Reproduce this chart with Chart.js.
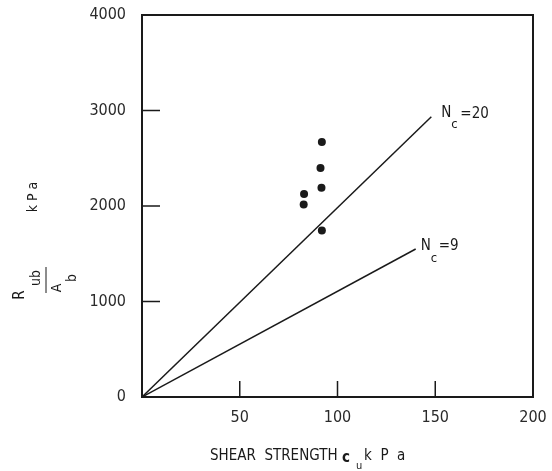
<!DOCTYPE html>
<html>
<head>
<meta charset="utf-8">
<script src="https://cdn.jsdelivr.net/npm/chart.js@4/dist/chart.umd.min.js"></script>
<style>
  body { margin: 0; background: #fff; }
  #chart { display: block; }
</style>
</head>
<body>
<canvas id="chart" width="552" height="471"></canvas>
<script>
// measured pile tests (shear strength cu, kPa vs Rub/Ab, kPa)
var testCu = [92, 91.3, 91.8, 82.9, 82.7, 92];
var testQ = [2670, 2397, 2191, 2125, 2016, 1743];

// Nc lines drawn on the figure
var nc20Cu = [0, 148];
var nc20Q = [0, 2935];
var nc9Cu = [0, 140];
var nc9Q = [0, 1550];

var xTicks = [50, 100, 150, 200];
var yTicks = [0, 1000, 2000, 3000, 4000];

var FONT = "'DejaVu Sans Condensed', 'DejaVu Sans', sans-serif";
var INK = '#1a1a1a';

function pairs(xs, ys) {
    return xs.map(function (x, i) { return { x: x, y: ys[i] }; });
}

// frame, inner ticks and the text annotations
var frame = {
    id: 'frame',
    afterDatasetsDraw: function (chart) {
        var c = chart.ctx;
        var a = chart.chartArea;
        var xs = chart.scales.x, ys = chart.scales.y;
        c.save();
        c.strokeStyle = INK;
        c.lineWidth = 2;
        c.strokeRect(a.left, a.top, a.right - a.left, a.bottom - a.top);

        c.lineWidth = 1.5;
        c.beginPath();
        [1000, 2000, 3000].forEach(function (v) {
            var py = ys.getPixelForValue(v);
            c.moveTo(a.left, py);
            c.lineTo(a.left + 18, py);
        });
        [50, 100, 150].forEach(function (v) {
            var px = xs.getPixelForValue(v);
            c.moveTo(px, a.bottom);
            c.lineTo(px, a.bottom - 16);
        });
        c.stroke();

        // line labels
        c.fillStyle = INK;
        c.textBaseline = 'middle';
        c.textAlign = 'left';
        var p20x = xs.getPixelForValue(nc20Cu[1]), p20y = ys.getPixelForValue(nc20Q[1]);
        c.font = '15px ' + FONT;
        c.fillText('N', p20x + 10, p20y - 4);
        c.fillText('=20', p20x + 29, p20y - 3);
        c.font = '13px ' + FONT;
        c.fillText('c', p20x + 20, p20y + 8);

        var p9x = xs.getPixelForValue(nc9Cu[1]), p9y = ys.getPixelForValue(nc9Q[1]);
        c.font = '15px ' + FONT;
        c.fillText('N', p9x + 5, p9y - 3);
        c.fillText('=9', p9x + 23, p9y - 3);
        c.font = '13px ' + FONT;
        c.fillText('c', p9x + 15, p9y + 10);

        // x title
        c.textAlign = 'left';
        c.font = '15px ' + FONT;
        c.fillText('SHEAR  STRENGTH', 210, 456);
        c.font = 'bold 15px ' + FONT;
        c.fillText('c', 342, 458);
        c.font = '11px ' + FONT;
        c.fillText('u', 356, 466);
        c.font = '15px ' + FONT;
        c.fillText('k  P  a', 364, 456);

        // y title (rotated)
        c.rotate(-Math.PI / 2);
        c.textAlign = 'center';
        c.font = '15px ' + FONT;
        c.fillText('R', -295, 20);
        c.font = '14px ' + FONT;
        c.fillText('ub', -278, 36);
        c.fillText('A', -288, 57);
        c.fillText('b', -278, 72);
        c.fillText('k P a', -197, 33);
        c.lineWidth = 1;
        c.beginPath();
        c.moveTo(-293, 46);
        c.lineTo(-267, 46);
        c.stroke();
        c.restore();
    }
};

var ctx = document.getElementById('chart').getContext('2d');

new Chart(ctx, {
    type: 'scatter',
    data: {
        datasets: [{
            label: 'tests',
            data: pairs(testCu, testQ),
            pointRadius: 4,
            pointBackgroundColor: INK,
            pointBorderWidth: 0,
            showLine: false
        }, {
            label: 'Nc=20',
            data: pairs(nc20Cu, nc20Q),
            showLine: true,
            pointRadius: 0,
            borderColor: INK,
            borderWidth: 1.5
        }, {
            label: 'Nc=9',
            data: pairs(nc9Cu, nc9Q),
            showLine: true,
            pointRadius: 0,
            borderColor: INK,
            borderWidth: 1.5
        }]
    },
    options: {
        responsive: false,
        animation: false,
        layout: { padding: { top: 15, right: 19, left: 0, bottom: 0 } },
        plugins: {
            legend: { display: false },
            tooltip: { enabled: false }
        },
        scales: {
            x: {
                type: 'linear',
                min: 0,
                max: 200,
                afterFit: function (s) {
                    s.height = 74;
                    s.paddingLeft = 0;
                    s.paddingRight = 0;
                },
                afterBuildTicks: function (s) {
                    s.ticks = xTicks.map(function (v) { return { value: v }; });
                },
                grid: { display: false, drawTicks: false },
                border: { display: false },
                ticks: {
                    padding: 11,
                    color: '#2a2a2a',
                    font: { family: FONT, size: 16 },
                    maxRotation: 0,
                    callback: function (v) { return String(v); }
                }
            },
            y: {
                type: 'linear',
                min: 0,
                max: 4000,
                afterFit: function (s) {
                    s.width = 142;
                    s.paddingTop = 0;
                    s.paddingBottom = 0;
                },
                afterBuildTicks: function (s) {
                    s.ticks = yTicks.map(function (v) { return { value: v }; });
                },
                grid: { display: false, drawTicks: false },
                border: { display: false },
                ticks: {
                    padding: 16,
                    color: '#2a2a2a',
                    font: { family: FONT, size: 16 },
                    callback: function (v) { return String(v); }
                }
            }
        }
    },
    plugins: [frame]
});
</script>
</body>
</html>
